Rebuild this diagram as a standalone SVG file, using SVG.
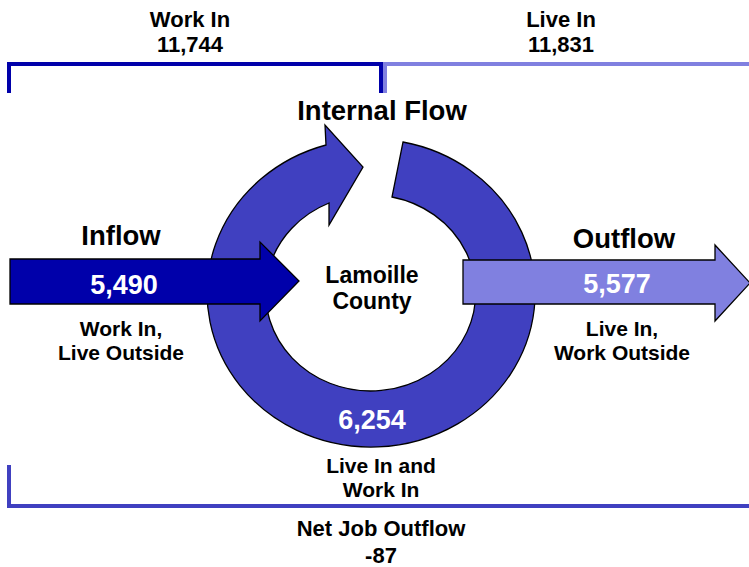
<svg xmlns="http://www.w3.org/2000/svg" width="749" height="567" viewBox="0 0 749 567">
<style>
text{font-family:"Liberation Sans",Arial,sans-serif;font-weight:bold;text-anchor:middle;fill:#000}
.h{font-size:27.5px}
.s{font-size:21px}
.t{font-size:22px}
.n{font-size:27px;fill:#fff}
.c{font-size:23px}
.shape{stroke:#000;stroke-width:1.3;stroke-linejoin:miter}
</style>
<rect width="749" height="567" fill="#fff"/>
<g id="brackets">
<path d="M9,93 V64 H381 V93" fill="none" stroke="#0000AA" stroke-width="4"/>
<path d="M383,64 H749" fill="none" stroke="#8080E0" stroke-width="4"/>
<path d="M385,66 V93" fill="none" stroke="#8080E0" stroke-width="4"/>
<path d="M9,465 V506 H749" fill="none" stroke="#4040C0" stroke-width="4"/>
</g>
<g id="labels-top">
<text class="t" x="190" y="27">Work In</text>
<text class="t" x="190" y="52">11,744</text>
<text class="t" x="561" y="27">Live In</text>
<text class="t" x="561" y="52">11,831</text>
</g>
<g id="internal-flow">
<path class="shape" fill="#4040C0" d="M403,142 A164,154 0 1,1 326,145 L325,125 L363,167 L329,225 L329,203 A105,98 0 1,0 392,197 Z"/>
<text class="h" x="382" y="120">Internal Flow</text>
<text class="n" x="372" y="429">6,254</text>
<text class="s" x="381" y="473">Live In and</text>
<text class="s" x="381" y="497">Work In</text>
</g>
<g id="county">
<text class="c" x="372" y="283">Lamoille</text>
<text class="c" x="372" y="309">County</text>
</g>
<g id="inflow">
<path class="shape" fill="#0000AA" d="M10,259 L260,259 L260,242 L299,281 L260,321 L260,304 L10,304 Z"/>
<text class="h" x="121" y="245">Inflow</text>
<text class="n" x="124" y="294">5,490</text>
<text class="s" x="121" y="336">Work In,</text>
<text class="s" x="121" y="360">Live Outside</text>
</g>
<g id="outflow">
<path class="shape" fill="#8080E0" d="M463,260 L715,260 L715,245 L750,283 L715,321 L715,304 L463,304 Z"/>
<text class="h" x="624" y="248">Outflow</text>
<text class="n" x="617" y="293">5,577</text>
<text class="s" x="622" y="336">Live In,</text>
<text class="s" x="622" y="360">Work Outside</text>
</g>
<g id="net">
<text class="t" x="381" y="536">Net Job Outflow</text>
<text class="t" x="381" y="563">-87</text>
</g>
</svg>
